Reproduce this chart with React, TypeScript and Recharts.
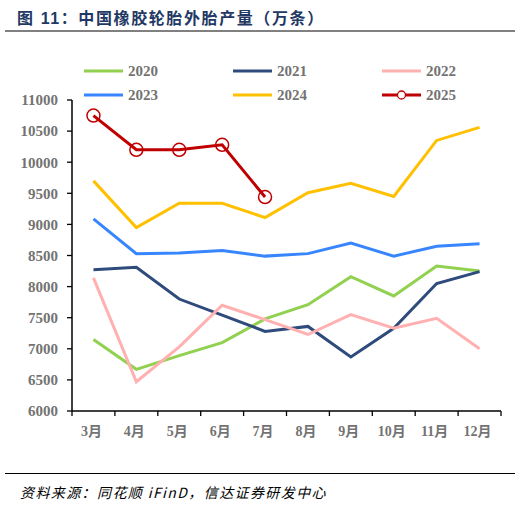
import React from "react";
import { LineChart, Line, XAxis, YAxis } from "recharts";

// 中国橡胶轮胎外胎产量（万条），按月
const months = ["3月", "4月", "5月", "6月", "7月", "8月", "9月", "10月", "11月", "12月"];
const yTicks = [6000, 6500, 7000, 7500, 8000, 8500, 9000, 9500, 10000, 10500, 11000];

const s2020 = [7150, 6670, 6890, 7100, 7480, 7710, 8160, 7850, 8330, 8250];
const s2021 = [8270, 8310, 7800, 7540, 7280, 7360, 6870, 7330, 8050, 8240];
const s2022 = [8140, 6470, 7030, 7700, 7470, 7230, 7550, 7330, 7490, 7000];
const s2023 = [9090, 8530, 8540, 8580, 8490, 8530, 8700, 8490, 8650, 8690];
const s2024 = [9700, 8950, 9340, 9340, 9110, 9510, 9660, 9450, 10350, 10560];
const s2025 = [10750, 10200, 10200, 10280, 9440, null, null, null, null, null];

const series = [
  { key: "2020", values: s2020, color: "#92d050" },
  { key: "2021", values: s2021, color: "#2f4b7c" },
  { key: "2022", values: s2022, color: "#ffb0b0" },
  { key: "2023", values: s2023, color: "#3886ff" },
  { key: "2024", values: s2024, color: "#ffc000" },
  { key: "2025", values: s2025, color: "#c00000", marker: true },
];

const data = months.map((m, i) => {
  const row: Record<string, string | number | null> = { month: m };
  series.forEach((s) => {
    row[s.key] = s.values[i];
  });
  return row;
});

const labelFont = "'Liberation Serif', 'Noto Sans CJK SC', serif";
const gray = "#737373";

function MonthTick(props: any) {
  const { x, y, payload, index } = props;
  const half = payload && payload.offset ? payload.offset : 21.45;
  const last = index === months.length - 1;
  return (
    <g>
      <line x1={x - half} x2={x - half} y1={y} y2={y + 5} stroke="#000" strokeWidth={1.3} />
      {last && (
        <line x1={x + half} x2={x + half} y1={y} y2={y + 5} stroke="#000" strokeWidth={1.3} />
      )}
      <text
        x={x - 2}
        y={y + 25}
        textAnchor="middle"
        fill={gray}
        fontSize={14}
        fontWeight="bold"
        fontFamily={labelFont}
      >
        {payload.value}
      </text>
    </g>
  );
}

function LegendBox() {
  return (
    <svg width={521} height={60} style={{ position: "absolute", left: 0, top: 55 }}>
      {series.map((s, i) => {
        const col = i % 3;
        const row = Math.floor(i / 3);
        const x0 = 84 + col * 149;
        const cy = 16 + row * 24;
        return (
          <g key={s.key}>
            <line x1={x0} x2={x0 + 39} y1={cy} y2={cy} stroke={s.color} strokeWidth={3} />
            {s.marker && (
              <circle cx={x0 + 19.5} cy={cy} r={4} fill="#fff" stroke={s.color} strokeWidth={1.3} />
            )}
            <text
              x={x0 + 44}
              y={cy + 5}
              fill={gray}
              fontSize={15}
              fontWeight="bold"
              fontFamily={labelFont}
            >
              {s.key}
            </text>
          </g>
        );
      })}
    </svg>
  );
}

export default function App() {
  return (
    <div
      style={{
        position: "absolute",
        left: 0,
        top: 0,
        width: 521,
        height: 511,
        background: "#fff",
        overflow: "hidden",
      }}
    >
      <div
        style={{
          position: "absolute",
          left: 17,
          top: 5,
          fontSize: 16,
          fontWeight: "bold",
          letterSpacing: 1.6,
          color: "#1f3864",
          fontFamily: "'Liberation Sans', 'Noto Sans CJK SC', sans-serif",
          whiteSpace: "nowrap",
        }}
      >
        图 11：中国橡胶轮胎外胎产量（万条）
      </div>
      <div
        style={{
          position: "absolute",
          left: 5,
          top: 30,
          width: 510,
          height: 2,
          background: "#808080",
        }}
      />
      <LegendBox />
      <div style={{ position: "absolute", left: 0, top: 0 }}>
        <LineChart
          width={521}
          height={511}
          data={data}
          margin={{ top: 100, right: 20, bottom: 70, left: 0 }}
        >
          <XAxis
            dataKey="month"
            scale="band"
            interval={0}
            height={30}
            tickSize={0}
            tickMargin={0}
            tickLine={false}
            axisLine={{ stroke: "#000", strokeWidth: 1.5 }}
            tick={<MonthTick />}
          />
          <YAxis
            width={72}
            domain={[6000, 11000]}
            ticks={yTicks}
            interval={0}
            tickSize={5}
            tickMargin={9}
            axisLine={{ stroke: "#000", strokeWidth: 1.5 }}
            tickLine={{ stroke: "#000", strokeWidth: 1.3 }}
            tick={{ fill: gray, fontSize: 15, fontWeight: "bold", fontFamily: labelFont }}
          />
          {series.map((s) => (
            <Line
              key={s.key}
              dataKey={s.key}
              type="linear"
              stroke={s.color}
              strokeWidth={3}
              dot={s.marker ? { r: 6.5, fill: "none", stroke: s.color, strokeWidth: 1.5 } : false}
              activeDot={false}
              isAnimationActive={false}
            />
          ))}
        </LineChart>
      </div>
      <div
        style={{
          position: "absolute",
          left: 5,
          top: 473,
          width: 510,
          height: 1,
          background: "#000",
        }}
      />
      <div
        style={{
          position: "absolute",
          left: 20,
          top: 483,
          fontSize: 14,
          fontStyle: "italic",
          letterSpacing: 1.4,
          color: "#000",
          fontFamily: "'Noto Sans CJK SC', 'Liberation Sans', sans-serif",
          whiteSpace: "nowrap",
          lineHeight: "18px",
        }}
      >
        资料来源：同花顺 iFinD，信达证券研发中心
      </div>
    </div>
  );
}
